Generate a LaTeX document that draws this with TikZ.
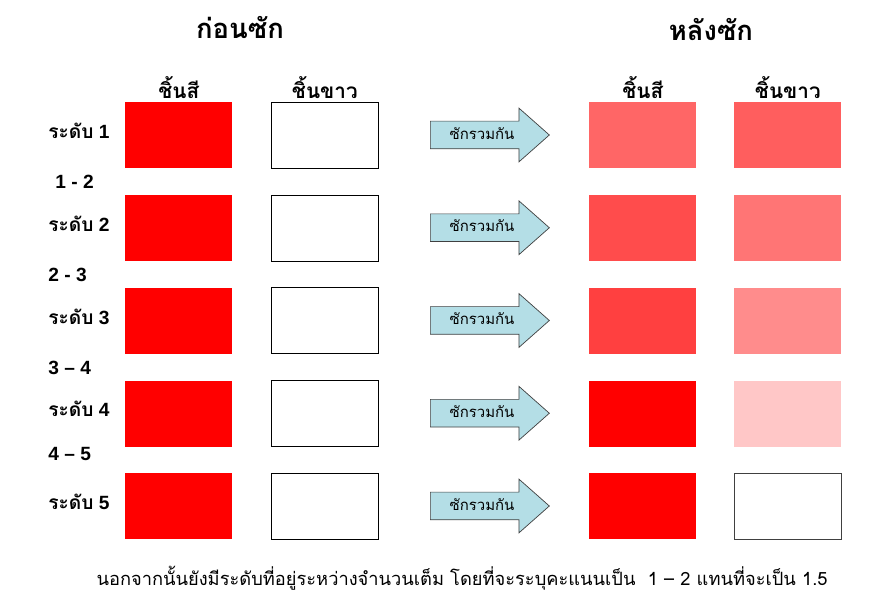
\documentclass[tikz,border=0pt]{standalone}
\usepackage{fontspec}
\setmainfont{Liberation Sans}
\newfontfamily\thai[Script=Thai]{Loma}
\usepackage{tikz}
\usetikzlibrary{shapes.arrows,positioning}
\definecolor{arrowblue}{RGB}{180,222,230}

\begin{document}
\begin{tikzpicture}[x=0.02cm,y=-0.02cm]
\tikzset{box/.style={minimum width=2.14cm,minimum height=1.32cm,inner sep=0pt,anchor=north west},
whitebox/.style={box,draw=black,fill=white},
washarrow/.style={single arrow,draw=black!75,fill=arrowblue,anchor=west,minimum height=2.38cm,
 single arrow head extend=0.26cm,single arrow tip angle=83,text height=0.25cm,text depth=0.08cm,
 inner ysep=0.105cm,font=\thai\fontsize{8.5}{10}\selectfont},
lvl/.style={anchor=west,inner sep=0pt,font=\bfseries\fontsize{10.9}{13}\selectfont},
head/.style={above=1pt,inner sep=1pt,font=\thai\bfseries\fontsize{11.8}{14}\selectfont},
title/.style={font=\thai\bfseries\fontsize{15.6}{18}\selectfont}}
\useasboundingbox (0,0) rectangle (880,597);

\node[title] (before) at (240,28) {ก่อนซัก};
\node[title] (after) at (711,30) {หลังซัก};

\foreach \i/\y/\cl/\cr/\cb in {1/102/red!60/red!63/none,2/194.75/red!70/red!54/none,3/287.5/red!75/red!45/none,4/380.25/red/red!22/none,5/473/red/white/black!75}{
\node[box,fill=red] (red\i) at (125,\y) {};
\node[whitebox] (white\i) at (271,\y) {};
\node[box,fill=\cl] (mixc\i) at (589,\y) {};
\node[box,fill=\cr,draw=\cb] (mixw\i) at (734,\y) {};
\node[washarrow] (arr\i) at (430,\y+33) {ซักรวมกัน};
\node[lvl] (lvl\i) at (48,\y+29) {{\thai ระดับ} \i};
}

\node[head] (hred) at (red1.north) {ชิ้นสี};
\node[head] (hwhite) at (white1.north) {ชิ้นขาว};
\node[head] (hmixc) at (mixc1.north) {ชิ้นสี};
\node[head] (hmixw) at (mixw1.north) {ชิ้นขาว};

%\node[lvl] (mid0) at (48,90) {0 - 1};
\node[lvl] (mid1) at (55,182) {1 - 2};
\node[lvl] (mid2) at (48,275) {2 - 3};
\node[lvl] (mid3) at (48,368) {3 \textendash{} 4};
\node[lvl] (mid4) at (48,454) {4 \textendash{} 5};

\node[font=\thai\fontsize{10.4}{13}\selectfont] (note) at (462,578) {นอกจากนั้นยังมีระดับที่อยู่ระหว่างจำนวนเต็ม โดยที่จะระบุคะแนนเป็น \ 1 \textendash{} 2 แทนที่จะเป็น 1.5};
\end{tikzpicture}
\end{document}
